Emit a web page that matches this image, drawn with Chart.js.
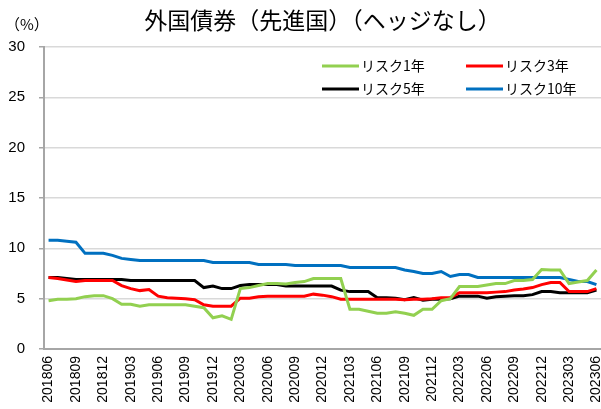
<!DOCTYPE html>
<html>
<head>
<meta charset="utf-8">
<script src="https://cdn.jsdelivr.net/npm/chart.js@4.4.0/dist/chart.umd.min.js"></script>
<style>
  html, body { margin: 0; padding: 0; background: #fff; }
  #wrap { width: 601px; height: 409px; position: relative; }
</style>
</head>
<body>
<div id="wrap"><canvas id="myChart"></canvas></div>
<script>
const chartTitle = '外国債券（先進国）（ヘッジなし）';
const unitLabel = '（%）';

const months = [
  '201806','201807','201808','201809','201810','201811','201812',
  '201901','201902','201903','201904','201905','201906','201907','201908','201909','201910','201911','201912',
  '202001','202002','202003','202004','202005','202006','202007','202008','202009','202010','202011','202012',
  '202101','202102','202103','202104','202105','202106','202107','202108','202109','202110','202111','202112',
  '202201','202202','202203','202204','202205','202206','202207','202208','202209','202210','202211','202212',
  '202301','202302','202303','202304','202305','202306'
];

const seriesNames = ['リスク1年', 'リスク3年', 'リスク5年', 'リスク10年'];
const seriesColors = ['#92d050', '#ff0000', '#000000', '#0070c0'];

const risk1 = [
  4.8, 4.95, 4.95, 5.0, 5.2, 5.3, 5.3, 5.0, 4.45, 4.45, 4.25, 4.4, 4.4,
  4.4, 4.4, 4.4, 4.25, 4.1, 3.1, 3.3, 2.95, 6.0, 6.1, 6.3, 6.5, 6.5,
  6.45, 6.6, 6.7, 7.0, 7.0, 7.0, 7.0, 3.95, 3.95, 3.75, 3.55, 3.55, 3.7,
  3.55, 3.35, 3.95, 3.95, 4.8, 5.0, 6.2, 6.2, 6.2, 6.35, 6.5, 6.5, 6.8,
  6.8, 6.9, 7.9, 7.85, 7.85, 6.5, 6.65, 6.8, 7.85
];
const risk3 = [
  7.1, 7.0, 6.85, 6.7, 6.8, 6.8, 6.8, 6.8, 6.3, 6.0, 5.8, 5.9, 5.25,
  5.1, 5.05, 5.0, 4.9, 4.4, 4.25, 4.25, 4.25, 5.05, 5.05, 5.2, 5.25, 5.25,
  5.25, 5.25, 5.25, 5.45, 5.35, 5.2, 4.95, 4.95, 4.95, 4.95, 4.95, 4.95, 4.95,
  4.9, 4.95, 4.95, 5.0, 5.1, 5.1, 5.6, 5.6, 5.6, 5.6, 5.65, 5.7, 5.85,
  5.95, 6.1, 6.4, 6.6, 6.6, 5.7, 5.7, 5.7, 6.0
];
const risk5 = [
  7.1, 7.1, 7.0, 6.9, 6.9, 6.9, 6.9, 6.9, 6.9, 6.8, 6.8, 6.8, 6.8,
  6.8, 6.8, 6.8, 6.8, 6.1, 6.25, 6.0, 6.0, 6.3, 6.4, 6.4, 6.4, 6.4,
  6.25, 6.25, 6.25, 6.25, 6.25, 6.25, 5.85, 5.7, 5.7, 5.7, 5.1, 5.1, 5.05,
  4.9, 5.1, 4.85, 4.95, 4.95, 5.0, 5.25, 5.25, 5.25, 5.05, 5.2, 5.25, 5.3,
  5.3, 5.4, 5.7, 5.7, 5.6, 5.6, 5.6, 5.6, 5.85
];
const risk10 = [
  10.8, 10.8, 10.7, 10.6, 9.5, 9.5, 9.5, 9.3, 9.0, 8.9, 8.8, 8.8, 8.8,
  8.8, 8.8, 8.8, 8.8, 8.8, 8.6, 8.6, 8.6, 8.6, 8.6, 8.4, 8.4, 8.4,
  8.4, 8.3, 8.3, 8.3, 8.3, 8.3, 8.3, 8.1, 8.1, 8.1, 8.1, 8.1, 8.1,
  7.85, 7.7, 7.5, 7.5, 7.7, 7.2, 7.4, 7.4, 7.1, 7.1, 7.1, 7.1, 7.1,
  7.1, 7.1, 7.1, 7.1, 7.1, 6.9, 6.7, 6.7, 6.4
];

const yMin = 0, yMax = 30, yStep = 5;

// title, unit and legend drawn inside the canvas
const decorations = {
  id: 'decorations',
  afterDraw(chart) {
    const ctx = chart.ctx;
    const area = chart.chartArea;
    ctx.save();
    ctx.fillStyle = '#000';
    ctx.textBaseline = 'middle';
    ctx.textAlign = 'center';
    ctx.font = '23px "Noto Sans CJK JP"';
    ctx.fillText(chartTitle, (area.left + area.right) / 2, 20);
    ctx.textAlign = 'left';
    ctx.font = '15px "Noto Sans CJK JP"';
    ctx.fillText(unitLabel, 5, 24);

    // legend, 2 columns
    const cols = [322, 466];
    const rows = [66, 89];
    ctx.font = '14px "Noto Sans CJK JP"';
    chart.data.datasets.forEach((ds, i) => {
      const x = cols[i % 2];
      const y = rows[Math.floor(i / 2)];
      ctx.strokeStyle = ds.borderColor;
      ctx.lineWidth = 3;
      ctx.beginPath();
      ctx.moveTo(x, y);
      ctx.lineTo(x + 37, y);
      ctx.stroke();
      ctx.fillText(ds.label, x + 39, y);
    });
    ctx.restore();
  }
};

const allData = [risk1, risk3, risk5, risk10];

new Chart(document.getElementById('myChart'), {
  type: 'line',
  data: {
    labels: months,
    datasets: allData.map((d, i) => ({
      label: seriesNames[i],
      data: d,
      borderColor: seriesColors[i],
      backgroundColor: seriesColors[i],
      borderWidth: 3,
      pointRadius: 0,
      tension: 0,
      fill: false
    }))
  },
  plugins: [decorations],
  options: {
    responsive: true,
    maintainAspectRatio: false,
    animation: false,
    layout: { padding: { top: 47, right: 0, left: 0, bottom: 0 } },
    plugins: {
      legend: { display: false },
      title: { display: false },
      tooltip: { enabled: false }
    },
    scales: {
      x: {
        offset: true,
        grid: { display: false, drawTicks: false },
        border: { display: true, color: '#a6a6a6', width: 2 },
        ticks: {
          autoSkip: false,
          maxRotation: 90,
          minRotation: 90,
          padding: 7,
          color: '#000',
          font: { family: '"Liberation Sans"', size: 14 },
          callback: function(val, index) {
            return index % 3 === 0 ? this.getLabelForValue(val) : '';
          }
        },
        afterFit(scale) {
          scale.paddingLeft = 0;
          scale.paddingRight = 0;
          scale.height = 60;
        }
      },
      y: {
        min: yMin,
        max: yMax,
        grid: { color: '#d9d9d9', lineWidth: 1.5, tickLength: 5, tickColor: '#a6a6a6' },
        border: { display: true, color: '#a6a6a6', width: 2 },
        ticks: {
          stepSize: yStep,
          padding: 14,
          color: '#000',
          font: { family: '"Liberation Sans"', size: 15 }
        },
        afterFit(scale) {
          scale.width = 44;
        }
      }
    }
  }
});
</script>
</body>
</html>
